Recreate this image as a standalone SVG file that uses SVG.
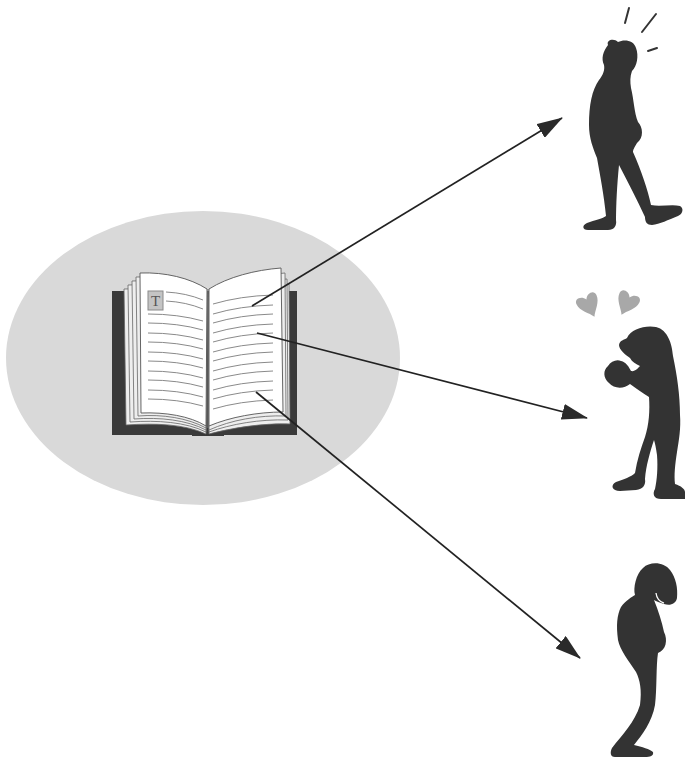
<svg xmlns="http://www.w3.org/2000/svg" width="685" height="759" viewBox="0 0 685 759">
  <style>
    .fig { fill: #333333; }
    .page { fill: #ffffff; stroke: #555555; stroke-width: 0.9; }
    .stack { fill: #eeeeee; stroke: #666666; stroke-width: 0.8; }
    .txt { fill: none; stroke: #8a8a8a; stroke-width: 1; }
    .heart { fill: #a8a8a8; }
    .conn { stroke: #222222; stroke-width: 1.7; fill: none; marker-end: url(#head); }
  </style>
  <defs>
    <marker id="head" viewBox="0 0 26 16" refX="25" refY="8" markerWidth="26" markerHeight="16" orient="auto" markerUnits="userSpaceOnUse">
      <path d="M0,0 L26,8 L0,16 Z" fill="#2a2a2a"/>
    </marker>
    <path id="heartShape" d="M0,13 C-3,7 -11,2 -11,-6 C-11,-12 -3,-12 0,-6 C3,-12 11,-12 11,-6 C11,2 3,7 0,13 Z"/>
  </defs>

  <rect width="685" height="759" fill="#ffffff"/>

  <!-- backdrop behind the book -->
  <ellipse id="halo" cx="203" cy="358" rx="197" ry="147" fill="#d9d9d9"/>

  <!-- open book -->
  <g id="book">
    <rect x="112" y="291" width="185" height="144" fill="#3a3a3a"/>
    <path d="M192,430 Q208,440 224,430 L224,436 L192,436 Z" fill="#3a3a3a"/>
    <!-- left page stack -->
    <path class="stack" d="M124,289 C155,288 188,294 207,301 L206,434 C185,424 155,423 126,425 Z"/>
    <path class="stack" d="M128,285 C158,284 189,290 207,297 L206,432 C186,422 157,420 130,422 Z"/>
    <path class="stack" d="M132,281 C161,280 190,286 207,294 L206,430 C187,420 160,417 134,419 Z"/>
    <path class="stack" d="M136,277 C163,276 191,282 207,291 L206,428 C188,418 162,414 138,416 Z"/>
    <!-- right page stack -->
    <path class="stack" d="M209,301 C230,292 262,285 289,284 L290,424 C262,423 232,428 209,434 Z"/>
    <path class="stack" d="M209,297 C230,287 260,280 287,279 L288,420 C260,419 231,424 209,432 Z"/>
    <path class="stack" d="M209,294 C229,283 258,275 285,273 L286,416 C259,415 231,420 209,430 Z"/>
    <!-- front pages -->
    <path class="page" d="M140,273 C165,272 190,278 207,289 L206,426 C190,416 165,412 141,413 Z"/>
    <path class="page" d="M209,289 C228,277 255,270 281,268 L283,412 C258,412 230,417 209,426 Z"/>
    <line x1="208" y1="289" x2="208" y2="428" stroke="#777777" stroke-width="1"/>
    <!-- initial letter -->
    <rect x="148" y="291" width="15" height="19" fill="#c4c4c4" stroke="#8a8a8a" stroke-width="1"/>
    <text x="155.5" y="306" font-family="Liberation Serif, serif" font-size="15" text-anchor="middle" fill="#555555">T</text>
    <!-- left page lines -->
    <g class="txt">
      <path d="M166,292 Q186,293 203,300"/>
      <path d="M166,301 Q186,302 203,309"/>
      <path d="M148,314 Q178,314 203,321"/>
      <path d="M148,323 Q178,323 203,330"/>
      <path d="M148,333 Q178,333 203,340"/>
      <path d="M148,342 Q178,342 203,349"/>
      <path d="M148,352 Q178,352 203,359"/>
      <path d="M148,361 Q178,361 203,368"/>
      <path d="M148,371 Q178,371 203,378"/>
      <path d="M148,380 Q178,380 203,387"/>
      <path d="M148,390 Q178,390 203,397"/>
      <path d="M148,399 Q178,399 203,406"/>
    </g>
    <!-- right page lines -->
    <g class="txt">
      <path d="M213,304 Q240,296 273,295"/>
      <path d="M213,314 Q240,306 273,305"/>
      <path d="M213,323 Q240,315 273,314"/>
      <path d="M213,333 Q240,325 273,324"/>
      <path d="M213,342 Q240,334 273,333"/>
      <path d="M213,352 Q240,344 273,343"/>
      <path d="M213,361 Q240,353 273,352"/>
      <path d="M213,371 Q240,363 273,362"/>
      <path d="M213,380 Q240,372 273,371"/>
      <path d="M213,390 Q240,382 273,381"/>
      <path d="M213,399 Q240,391 273,390"/>
      <path d="M213,409 Q240,401 273,400"/>
    </g>
  </g>

  <!-- connectors -->
  <g id="connectors">
    <path class="conn" d="M252,306 L562,118"/>
    <path class="conn" d="M257,333 L587,418"/>
    <path class="conn" d="M256,392 L580,658"/>
  </g>

  <!-- startled walker -->
  <g id="person-surprised">
    <path class="fig" d="M608,45 C606,40 614,38 618,42 C624,39 634,40 636,48 C639,56 637,66 632,71 C630,76 630,82 631,88 C634,100 634,112 638,122 C643,127 644,138 637,143 C634,148 633,150 633,152 C641,170 648,190 651,205 C660,207 672,204 680,206 C684,208 683,214 678,216 C668,220 660,224 652,225 C647,225 645,222 645,217 C637,200 628,182 619,165 C617,185 616,205 616,220 C617,226 614,230 608,230 L588,230 C582,230 582,225 587,223 C595,220 602,219 606,216 C604,195 600,175 597,158 C593,148 589,138 589,125 C589,105 592,90 599,80 C603,75 605,70 604,65 C601,58 603,52 608,45 Z"/>
    <g stroke="#333333" stroke-width="2" stroke-linecap="round">
      <line x1="625" y1="23" x2="629" y2="8"/>
      <line x1="642" y1="32" x2="656" y2="14"/>
      <line x1="648" y1="51" x2="657" y2="48"/>
    </g>
  </g>

  <!-- smitten figure -->
  <g id="person-smitten">
    <use href="#heartShape" class="heart" transform="translate(589,305) rotate(-25)"/>
    <use href="#heartShape" class="heart" transform="translate(627,303) rotate(25)"/>
    <path class="fig" d="M627,338 C631,329 645,325 656,327 C668,330 672,344 673,356 C677,375 680,395 680,415 C681,428 679,440 677,452 C675,465 674,475 675,484 C681,486 685,489 685,492 L685,499 L661,499 C654,499 652,494 655,489 C657,480 658,468 657,455 C656,448 655,443 654,440 C650,452 646,466 645,479 C646,485 643,489 636,490 L620,491 C612,491 610,485 616,482 C624,479 631,477 635,473 C637,460 641,448 645,437 C649,425 650,410 649,397 C642,393 636,388 630,384 C624,389 614,389 609,383 C603,378 603,370 608,366 C611,361 617,359 621,361 C626,362 629,367 631,371 C635,372 638,368 640,366 C636,364 632,362 630,358 C626,355 619,350 619,345 C620,340 624,340 627,338 Z"/>
  </g>

  <!-- downcast figure -->
  <g id="person-dejected">
    <path class="fig" d="M643,568 C650,561 664,562 670,570 C676,578 678,588 677,598 C676,604 670,606 664,604 C660,603 656,601 654,600 C658,610 662,622 664,632 C668,640 666,650 658,653 C656,665 657,690 655,705 C652,722 642,735 634,745 C642,747 650,749 653,752 C654,756 650,757 645,757 L615,757 C610,757 610,752 612,748 C622,735 635,722 640,705 C642,690 640,680 636,672 C628,660 620,650 618,640 C616,625 617,615 621,607 C626,600 632,597 635,595 C633,588 636,574 643,568 Z"/>
    <path d="M656,593 Q657,601 664,603" fill="none" stroke="#ffffff" stroke-width="1.3"/>
  </g>
</svg>
